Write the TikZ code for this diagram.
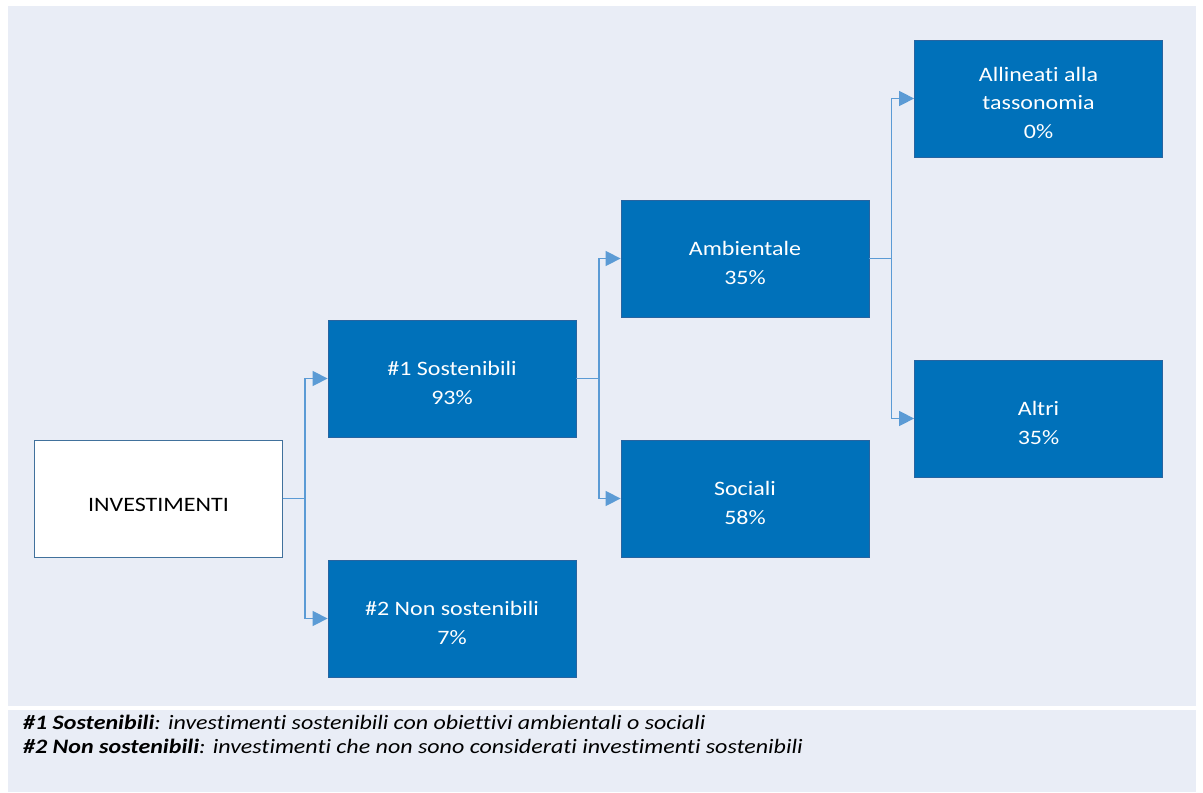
\documentclass[tikz,border=0pt]{standalone}
\usepackage{fontspec}
\setmainfont{Carlito}[FakeStretch=1.17, Ligatures=NoCommon]
\usetikzlibrary{arrows.meta}
\definecolor{panel}{RGB}{233,237,246}
\definecolor{boxblue}{RGB}{0,113,186}
\definecolor{boxedge}{RGB}{40,100,160}
\definecolor{conn}{RGB}{91,155,213}
\definecolor{invedge}{RGB}{65,113,156}
\tikzset{
  bluebox/.style={draw=boxedge, line width=0.8bp, fill=boxblue, text=white,
    minimum width=248bp, minimum height=117bp, inner sep=0pt, align=center,
    text height=51bp, text depth=0pt,
    font=\fontsize{20.5bp}{28.3bp}\selectfont},
  threeline/.style={text height=79bp},
  whitebox/.style={draw=invedge, line width=1bp, fill=white, text=black,
    minimum width=247bp, minimum height=117bp, inner sep=0pt, align=center,
    text height=25bp, text depth=0pt,
    font=\fontsize{20.5bp}{28.3bp}\selectfont},
  connector/.style={draw=conn, line width=1.5bp,
    -{Triangle[length=15bp,width=15bp]}},
  note/.style={anchor=base west, inner sep=0pt, font=\fontsize{20.5bp}{24bp}\selectfont\itshape}
}
\begin{document}
\begin{tikzpicture}[x=1bp,y=-1bp]
\useasboundingbox (0,0) rectangle (1203,793);
\fill[white] (0,0) rectangle (1203,793);
\fill[panel] (8,6) rectangle (1196,705.5);
\fill[panel] (8,710) rectangle (1196,792);
\node[whitebox] (inv) at (158.5,498.5) {INVESTIMENTI};
\node[bluebox] (s1) at (452,378.5) {\#1 Sostenibili\\93\%};
\node[bluebox] (s2) at (452,618.5) {\#2 Non sostenibili\\7\%};
\node[bluebox] (amb) at (745,258.5) {Ambientale\\35\%};
\node[bluebox] (soc) at (745,498.5) {Sociali\\58\%};
\node[bluebox, threeline] (all) at (1038.5,98.5) {Allineati alla\\tassonomia\\0\%};
\node[bluebox] (alt) at (1038.5,418.5) {Altri\\35\%};
\draw[connector] (inv.east) -- ++(22.5,0) |- (s1.west);
\draw[connector] (inv.east) -- ++(22.5,0) |- (s2.west);
\draw[connector] (s1.east) -- ++(22.5,0) |- (amb.west);
\draw[connector] (s1.east) -- ++(22.5,0) |- (soc.west);
\draw[connector] (amb.east) -- ++(22,0) |- (all.west);
\draw[connector] (amb.east) -- ++(22,0) |- (alt.west);
\node[note] (n1) at (23,729) {{\bfseries \#1 Sostenibili}: investimenti sostenibili con obiettivi ambientali o sociali};
\node[note] (n2) at (23,753) {{\bfseries \#2 Non sostenibili}: investimenti che non sono considerati investimenti sostenibili};
\end{tikzpicture}
\end{document}
